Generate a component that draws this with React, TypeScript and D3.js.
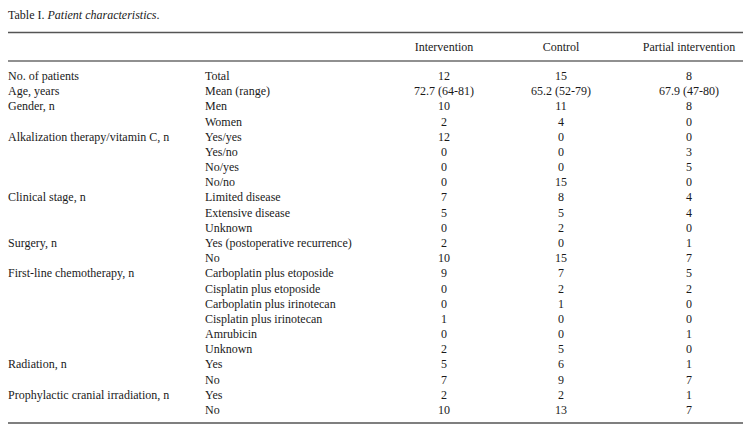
import React from "react";
import * as d3 from "d3";

const columns = ["Intervention", "Control", "Partial intervention"];
const groupLabels = ["No. of patients", "Age, years", "Gender, n", "", "Alkalization therapy/vitamin C, n", "", "", "", "Clinical stage, n", "", "", "Surgery, n", "", "First-line chemotherapy, n", "", "", "", "", "", "Radiation, n", "", "Prophylactic cranial irradiation, n", ""];
const subLabels = ["Total", "Mean (range)", "Men", "Women", "Yes/yes", "Yes/no", "No/yes", "No/no", "Limited disease", "Extensive disease", "Unknown", "Yes (postoperative recurrence)", "No", "Carboplatin plus etoposide", "Cisplatin plus etoposide", "Carboplatin plus irinotecan", "Cisplatin plus irinotecan", "Amrubicin", "Unknown", "Yes", "No", "Yes", "No"];
const intervention = ["12", "72.7 (64-81)", "10", "2", "12", "0", "0", "0", "7", "5", "0", "2", "10", "9", "0", "0", "1", "0", "2", "5", "7", "2", "10"];
const control = ["15", "65.2 (52-79)", "11", "4", "0", "0", "0", "15", "8", "5", "2", "0", "15", "7", "2", "1", "0", "0", "5", "6", "9", "2", "13"];
const partial = ["8", "67.9 (47-80)", "8", "0", "0", "3", "5", "0", "4", "4", "0", "1", "7", "5", "2", "0", "0", "1", "0", "1", "7", "1", "7"];

const W = 754, H = 440;
const FONT = "'Liberation Serif', 'Times New Roman', serif";
const TEXT = "#1a1a1a";
const RULE = "#555";

export default function App() {
  const rowIdx = d3.range(subLabels.length);
  const y = d3.scalePoint<number>().domain(rowIdx).range([76, 410]);
  const x = d3.scaleOrdinal<string, number>().domain(columns).range([444, 561, 689]);
  const colData = [intervention, control, partial];
  return (
    <svg width={W} height={H} style={{ position: "absolute", left: 0, top: 0, background: "#fff" }} fontFamily={FONT} fontSize={12} fill={TEXT}>
      <text x={8} y={19}>Table I. <tspan fontStyle="italic">Patient characteristics</tspan>.</text>
      <line x1={8} x2={743} y1={32.5} y2={32.5} stroke={RULE} strokeWidth={1.3} />
      {columns.map((c) => (
        <text key={c} x={x(c)} y={51} textAnchor="middle">{c}</text>
      ))}
      <line x1={8} x2={743} y1={61} y2={61} stroke={"#222"} strokeWidth={1.2} />
      {rowIdx.map((i) => (
        <g key={i}>
          {groupLabels[i] && <text x={8} y={(y(i) as number) + 4}>{groupLabels[i]}</text>}
          <text x={205} y={(y(i) as number) + 4}>{subLabels[i]}</text>
          {colData.map((col, j) => (
            <text key={j} x={x(columns[j])} y={(y(i) as number) + 4} textAnchor="middle">{col[i]}</text>
          ))}
        </g>
      ))}
      <line x1={8} x2={743} y1={423} y2={423} stroke={RULE} strokeWidth={1.3} />
    </svg>
  );
}
